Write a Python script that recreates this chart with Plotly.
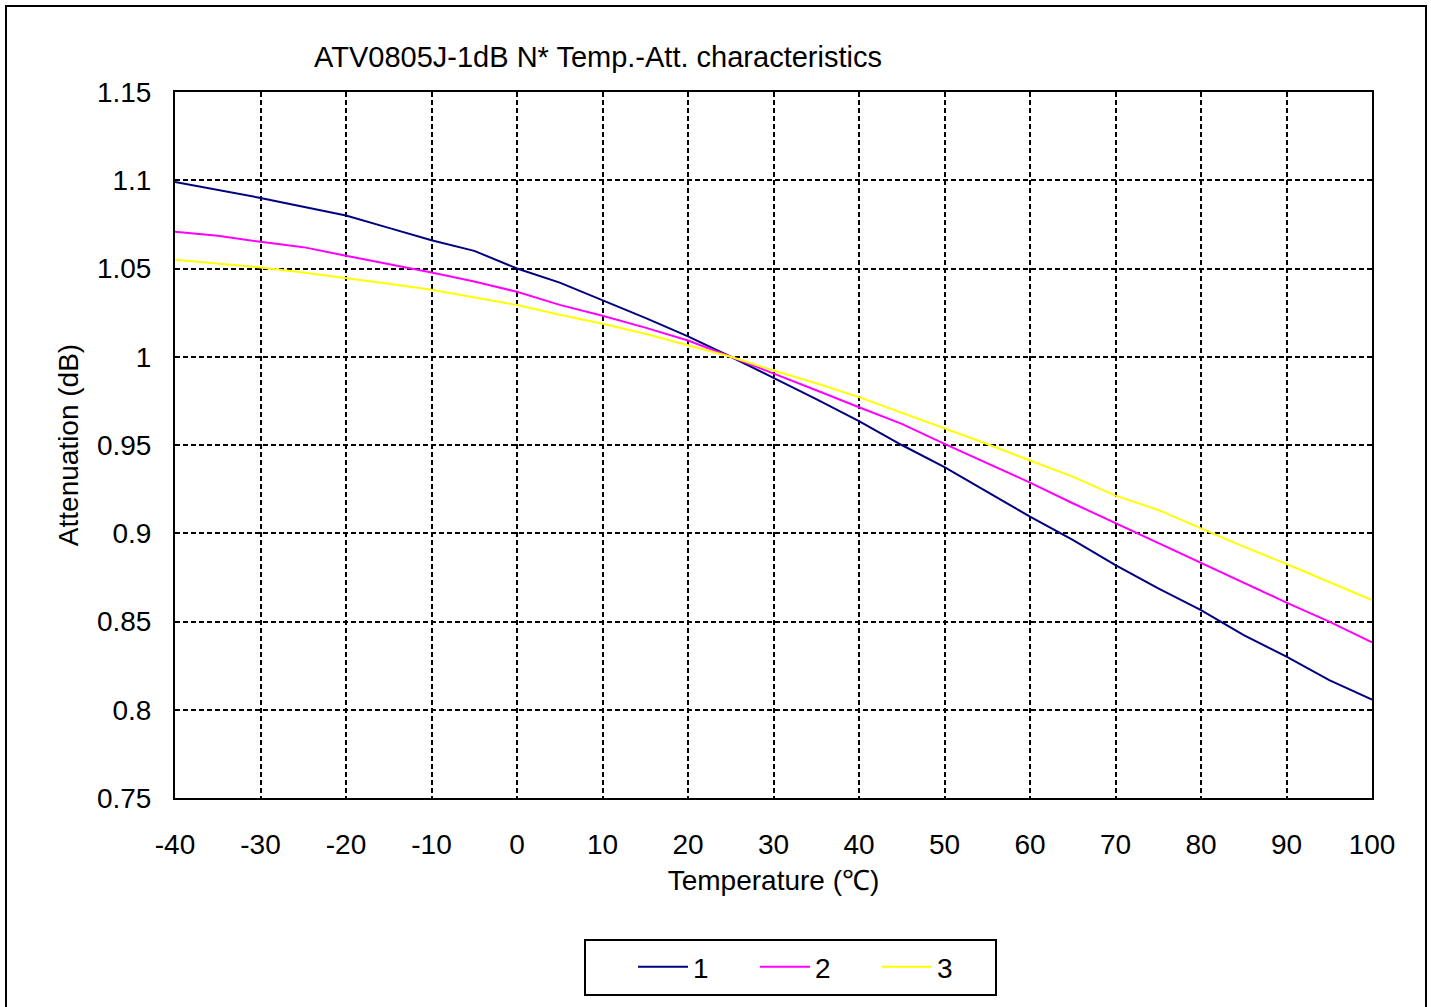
import plotly.graph_objects as go

temps = [-40, -35, -30, -25, -20, -15, -10, -5, 0, 5, 10, 15, 20, 25, 30, 35, 40, 45,
         50, 55, 60, 65, 70, 75, 80, 85, 90, 95, 100]

series1 = [1.099, 1.0945, 1.090, 1.085, 1.080, 1.073, 1.066, 1.060, 1.050, 1.042, 1.032,
           1.022, 1.0115, 1.000, 0.988, 0.976, 0.9635, 0.950, 0.9375, 0.9236, 0.9094,
           0.8962, 0.882, 0.8688, 0.8565, 0.8423, 0.8301, 0.8168, 0.8057]
series2 = [1.0708, 1.0685, 1.0651, 1.0621, 1.0572, 1.0525, 1.0477, 1.0426, 1.0368, 1.0294,
           1.0232, 1.0165, 1.0092, 1.000, 0.9903, 0.981, 0.9714, 0.962, 0.9506, 0.9397,
           0.9287, 0.917, 0.9057, 0.8943, 0.8833, 0.8717, 0.8607, 0.8499, 0.8382]
series3 = [1.0549, 1.0528, 1.0506, 1.0477, 1.0446, 1.0413, 1.0379, 1.0338, 1.0293, 1.0238,
           1.0187, 1.013, 1.0067, 1.000, 0.9922, 0.985, 0.9771, 0.9684, 0.9595, 0.9506,
           0.9412, 0.9321, 0.9213, 0.9132, 0.9028, 0.8924, 0.8826, 0.8726, 0.8622]

names = ["1", "2", "3"]
colors = ["#000080", "#FF00FF", "#FFFF00"]

x_ticks = [-40, -30, -20, -10, 0, 10, 20, 30, 40, 50, 60, 70, 80, 90, 100]
x_ticktext = ["-40", "-30", "-20", "-10", "0", "10", "20", "30", "40", "50", "60",
              "70", "80", "90", "100"]
y_ticks = [0.75, 0.8, 0.85, 0.9, 0.95, 1.0, 1.05, 1.1, 1.15]
y_ticktext = ["0.75", "0.8", "0.85", "0.9", "0.95", "1", "1.05", "1.1", "1.15"]

FONT = "Arial, Liberation Sans, sans-serif"
FS = 28

fig = go.Figure()
for name, col, ys in zip(names, colors, [series1, series2, series3]):
    fig.add_trace(go.Scatter(x=temps, y=ys, mode="lines", name=name,
                             line=dict(color=col, width=2)))

W, H = 1431, 1007
L, R, T, B = 175, 59, 92, 209
pw, ph = W - L - R, H - T - B

def px2x(p):
    return (p - L) / pw

def py2y(p):
    return (H - B - p) / ph

fig.update_layout(
    width=W, height=H,
    margin=dict(l=L, r=R, t=T, b=B),
    paper_bgcolor="white", plot_bgcolor="white",
    font=dict(family=FONT, size=FS, color="black"),
    title=dict(text="ATV0805J-1dB N* Temp.-Att. characteristics",
               x=598 / W, xref="container", xanchor="center",
               y=1 - 57 / H, yref="container", yanchor="middle",
               font=dict(size=29, family=FONT, color="black")),
    legend=dict(orientation="h", x=px2x(633), xanchor="left",
                y=py2y(967), yanchor="middle",
                borderwidth=0, bgcolor="rgba(0,0,0,0)",
                itemwidth=50, entrywidth=57, entrywidthmode="pixels",
                font=dict(size=FS, family=FONT)),
    shapes=[dict(type="rect", xref="paper", yref="paper",
                 x0=px2x(6), x1=px2x(1426), y0=py2y(1012), y1=py2y(6),
                 line=dict(color="black", width=2), fillcolor="rgba(0,0,0,0)",
                 layer="below"),
            dict(type="rect", xref="paper", yref="paper",
                 x0=px2x(585), x1=px2x(996), y0=py2y(995), y1=py2y(940),
                 line=dict(color="black", width=2), fillcolor="rgba(0,0,0,0)",
                 layer="below")],
)

fig.update_xaxes(range=[-40, 100], tickvals=x_ticks, ticktext=x_ticktext,
                 showgrid=True, gridcolor="black", gridwidth=2, griddash="5px,3px",
                 showline=True, linecolor="black", linewidth=2, mirror=True,
                 zeroline=False, ticks="outside", ticklen=0, ticklabelstandoff=20,
                 title=dict(text="Temperature (℃)", standoff=12,
                            font=dict(size=FS, family=FONT)))
fig.update_yaxes(range=[0.75, 1.15], tickvals=y_ticks, ticktext=y_ticktext,
                 showgrid=True, gridcolor="black", gridwidth=2, griddash="5px,3px",
                 showline=True, linecolor="black", linewidth=2, mirror=True,
                 zeroline=False, ticks="outside", ticklen=0, ticklabelstandoff=16,
                 title=dict(text="Attenuation (dB)", standoff=10,
                            font=dict(size=FS, family=FONT)))

fig.write_html("out.html", config={"displayModeBar": False},
               post_script="document.body.style.margin='0';")
